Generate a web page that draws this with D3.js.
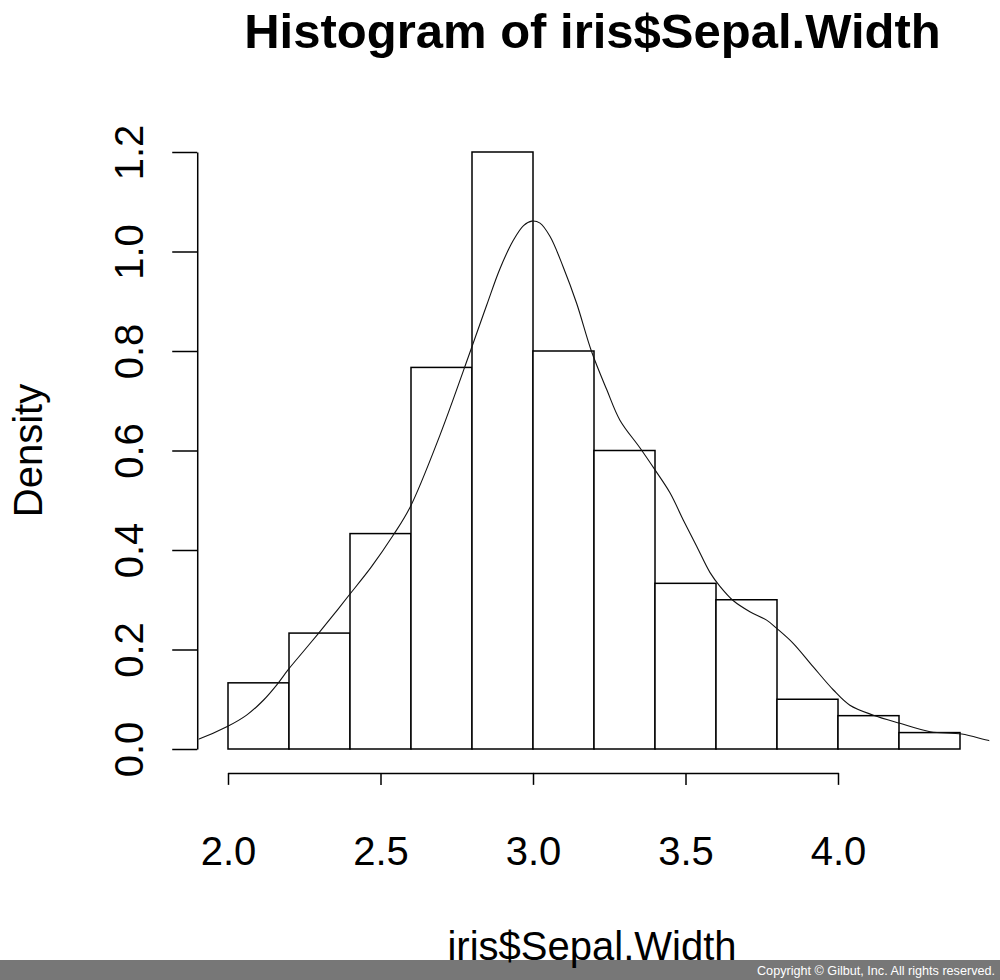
<!DOCTYPE html>
<html>
<head>
<meta charset="utf-8">
<script src="https://cdn.jsdelivr.net/npm/d3@7"></script>
<style>
  html, body { margin: 0; padding: 0; background: #fff; }
  svg { display: block; }
  text { font-family: "Liberation Sans", Arial, sans-serif; }
</style>
</head>
<body>
<svg id="chart" width="1000" height="980"></svg>
<script>
// ---- data ----
const binBreaks = [2.0, 2.2, 2.4, 2.6, 2.8, 3.0, 3.2, 3.4, 3.6, 3.8, 4.0, 4.2, 4.4];
const binDensity = [0.133, 0.233, 0.433, 0.767, 1.2, 0.8, 0.6, 0.333, 0.3, 0.1, 0.067, 0.033];
const curveX = [1.85, 1.903, 1.996, 2.061, 2.116, 2.160, 2.198, 2.247, 2.296, 2.345, 2.394, 2.470, 2.542, 2.597, 2.695, 2.796, 2.848, 2.892, 2.936, 2.969, 2.996, 3.023, 3.056, 3.099, 3.143, 3.192, 3.242, 3.285, 3.351, 3.400, 3.449, 3.493, 3.537, 3.580, 3.613, 3.657, 3.711, 3.766, 3.799, 3.853, 3.919, 3.985, 4.039, 4.116, 4.203, 4.302, 4.406, 4.498, 4.55];
const curveY = [0.010, 0.0195, 0.0445, 0.068, 0.098, 0.129, 0.160, 0.196, 0.232, 0.269, 0.307, 0.366, 0.430, 0.486, 0.631, 0.802, 0.892, 0.966, 1.023, 1.052, 1.061, 1.057, 1.030, 0.969, 0.896, 0.799, 0.722, 0.661, 0.605, 0.561, 0.515, 0.460, 0.407, 0.355, 0.327, 0.298, 0.276, 0.259, 0.2425, 0.2125, 0.165, 0.1186, 0.088, 0.068, 0.0516, 0.0348, 0.0300, 0.0167, 0.012];
const xTicks = [2.0, 2.5, 3.0, 3.5, 4.0];
const yTicks = [0.0, 0.2, 0.4, 0.6, 0.8, 1.0, 1.2];
const titleText = "Histogram of iris$Sepal.Width";
const xLabel = "iris$Sepal.Width";
const yLabel = "Density";
const footerText = "Copyright \u00A9 Gilbut, Inc. All rights reserved.";

// ---- drawing ----
const svg = d3.select("#chart");
const x = d3.scaleLinear().domain([2, 4]).range([228, 838]);
const y = d3.scaleLinear().domain([0, 1.2]).range([749, 152]);
const xLo = 1.904, xHi = 4.496, yLo = -0.048, yHi = 1.248;

svg.append("defs").append("clipPath").attr("id", "plotclip")
  .append("rect")
  .attr("x", x(xLo)).attr("y", y(yHi))
  .attr("width", x(xHi) - x(xLo)).attr("height", y(yLo) - y(yHi));

// bars
const bins = binDensity.map((d, i) => ({ x0: binBreaks[i], x1: binBreaks[i + 1], d }));
svg.append("g").selectAll("rect").data(bins).join("rect")
  .attr("x", b => x(b.x0))
  .attr("y", b => y(b.d))
  .attr("width", b => x(b.x1) - x(b.x0))
  .attr("height", b => y(0) - y(b.d))
  .attr("fill", "#fff")
  .attr("stroke", "#000")
  .attr("stroke-width", 1.5);

// density curve
const pts = curveX.map((v, i) => [v, curveY[i]]);
svg.append("path")
  .datum(pts)
  .attr("clip-path", "url(#plotclip)")
  .attr("d", d3.line().x(p => x(p[0])).y(p => y(p[1])).curve(d3.curveCatmullRom.alpha(0.5)))
  .attr("fill", "none")
  .attr("stroke", "#111")
  .attr("stroke-width", 1.1);

// x axis
const gx = svg.append("g")
  .attr("transform", `translate(0,${y(yLo)})`)
  .call(d3.axisBottom(x).tickValues(xTicks).tickFormat(d3.format(".1f"))
    .tickSizeOuter(0).tickSizeInner(12).tickPadding(52));
gx.selectAll("path, line").attr("stroke", "#000").attr("stroke-width", 1.5);
gx.selectAll("text").attr("font-size", 40).attr("fill", "#000")
  .attr("font-family", "'Liberation Sans', Arial, sans-serif");

// y axis
const gy = svg.append("g")
  .attr("transform", `translate(${x(xLo) - 1.5},0)`)
  .call(d3.axisLeft(y).tickValues(yTicks).tickFormat(d3.format(".1f"))
    .tickSizeOuter(0).tickSizeInner(25));
gy.selectAll("path, line").attr("stroke", "#000").attr("stroke-width", 1.5);
gy.selectAll("text")
  .attr("x", null).attr("dy", null).attr("y", null)
  .attr("transform", "translate(-54,0) rotate(-90)")
  .attr("text-anchor", "middle")
  .attr("font-size", 40).attr("fill", "#000")
  .attr("font-family", "'Liberation Sans', Arial, sans-serif");

const cx = (x(xLo) + x(xHi)) / 2;
const cy = (y(yLo) + y(yHi)) / 2;

// footer bar
svg.append("rect").attr("x", 0).attr("y", 960).attr("width", 1000).attr("height", 20)
  .attr("fill", "#777777");
svg.append("text").attr("x", 995).attr("y", 974.5)
  .attr("text-anchor", "end").attr("font-size", 12.5).attr("fill", "#fff")
  .attr("textLength", 238).attr("lengthAdjust", "spacingAndGlyphs")
  .text(footerText);

// title & labels
svg.append("text").attr("x", cx - 1.5).attr("y", 48)
  .attr("text-anchor", "middle").attr("font-size", 49).attr("font-weight", "bold")
  .text(titleText);
svg.append("text").attr("x", cx - 2).attr("y", 960)
  .attr("text-anchor", "middle").attr("font-size", 40)
  .text(xLabel);
svg.append("text")
  .attr("transform", `translate(42,${cy}) rotate(-90)`)
  .attr("text-anchor", "middle").attr("font-size", 40)
  .text(yLabel);
</script>
</body>
</html>
